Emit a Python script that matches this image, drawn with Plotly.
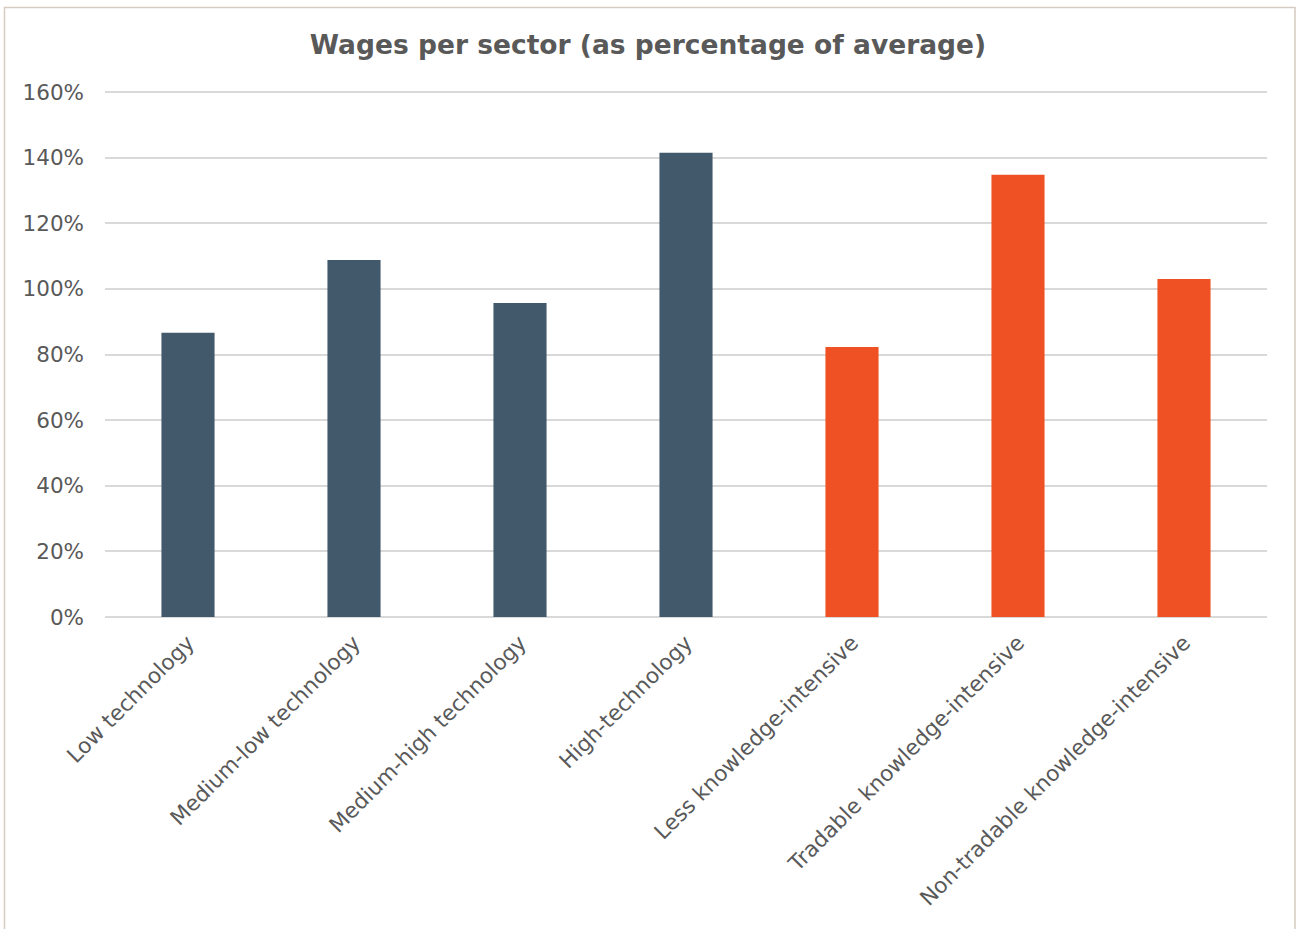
import plotly.graph_objects as go

categories = ["Low technology", "Medium-low technology", "Medium-high technology",
              "High-technology", "Less knowledge-intensive",
              "Tradable knowledge-intensive", "Non-tradable knowledge-intensive"]
wages_pct = [86.6, 108.8, 95.7, 141.5, 82.3, 134.8, 103.0]
groups = ["manufacturing"] * 4 + ["services"] * 3
group_colors = {"manufacturing": "#41596A", "services": "#F05124"}
y_ticks = [0, 20, 40, 60, 80, 100, 120, 140, 160]
y_tick_labels = [f"{v}%" for v in y_ticks]

fig = go.Figure(go.Bar(
    x=categories, y=wages_pct,
    marker=dict(color=[group_colors[g] for g in groups], line=dict(width=0)),
    width=0.32, hoverinfo="x+y",
))

W, H = 1296, 929
L, R, T, B = 105, 29, 85, 312
pw, ph = W - L - R, H - T - B
y_top = 160 * ph / (617 - 92)

def px_x(p):
    return (p - L) / pw

def px_y(p):
    return (H - B - p) / ph

font_family = "Verdana, DejaVu Sans, sans-serif"
fig.update_layout(
    width=W, height=H,
    margin=dict(l=L, r=R, t=T, b=B, autoexpand=False),
    paper_bgcolor="white", plot_bgcolor="white",
    title=dict(text="<b>Wages per sector (as percentage of average)</b>",
               x=0.5, xanchor="center", y=1 - 45 / H, yanchor="middle",
               font=dict(family=font_family, size=26.5, color="#595959")),
    font=dict(family=font_family, color="#595959"),
    showlegend=False,
    xaxis=dict(tickangle=-45, tickfont=dict(size=21.6, color="#595959"),
               showgrid=False, showline=False, ticks="", ticklabelstandoff=8,
               automargin=False),
    yaxis=dict(range=[0, y_top], tickmode="array", tickvals=y_ticks,
               ticktext=y_tick_labels,
               tickfont=dict(size=21.5, color="#595959"),
               showgrid=True, gridcolor="#D9D9D9", gridwidth=1.5,
               zeroline=True, zerolinecolor="#D9D9D9", zerolinewidth=2,
               showline=False, ticks="", ticklabelstandoff=20,
               automargin=False),
    shapes=[dict(type="rect", xref="paper", yref="paper",
                 x0=px_x(4.5), x1=px_x(1295), y0=px_y(940), y1=px_y(7.5),
                 line=dict(color="#D5CBC0", width=1.5), fillcolor="rgba(0,0,0,0)",
                 layer="below")],
)

fig.write_html("out.html")
